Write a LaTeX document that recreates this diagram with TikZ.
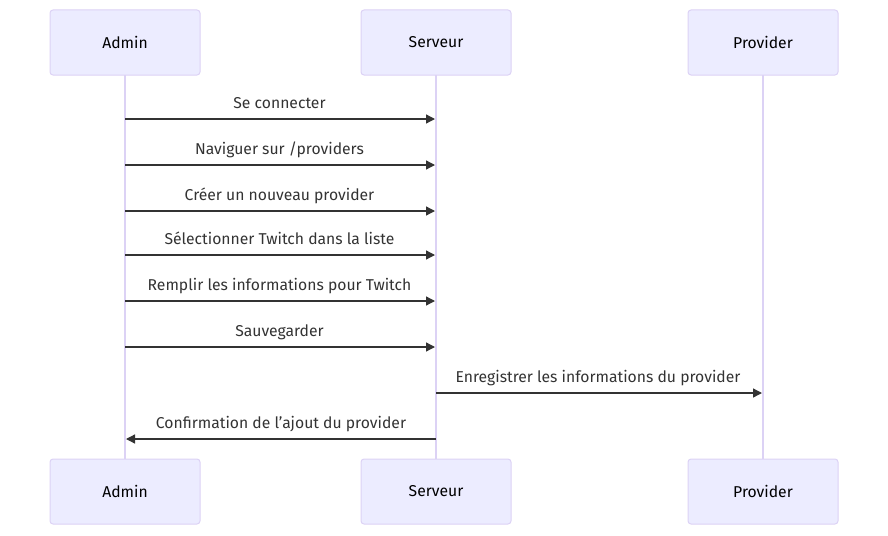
\documentclass[tikz,border=0pt]{standalone}
\usepackage{fontspec}
\setmainfont{Fira Sans}
\usetikzlibrary{arrows.meta}
\definecolor{actfill}{HTML}{ECECFF}
\definecolor{actline}{HTML}{DCD2F5}
\definecolor{msg}{HTML}{333333}
\tikzset{
  actor/.style={draw=actline, line width=1pt, fill=actfill, rounded corners=3pt, minimum width=150pt, minimum height=65pt, inner sep=0pt, font=\fontsize{15.7}{18}\selectfont, text=black},
  lifeline/.style={draw=actline, line width=1.3pt},
  message/.style={draw=msg, line width=1.3pt, -{Triangle[length=9pt,width=9pt]}},
  mlabel/.style={font=\fontsize{15.7}{18}\selectfont, text=msg, inner sep=0pt, anchor=base}
}
\begin{document}
\begin{tikzpicture}[x=1pt,y=-1pt]
\useasboundingbox (0,0) rectangle (888,535);
% lifelines
\foreach \x/\n in {125/a,436/s,763/p}{
  \coordinate (\n top) at (\x,75);
  \coordinate (\n bot) at (\x,459);
  \draw[lifeline] (\n top) -- (\n bot);
}
\node[actor] (A1) at (125,42.5) {\raisebox{-1pt}{Admin}};
\node[actor] (S1) at (436,42.5) {\raisebox{-1pt}{Serveur}};
\node[actor] (P1) at (763,42.5) {\raisebox{-1pt}{Provider}};
\node[actor] (A2) at (125,491.5) {\raisebox{-1pt}{Admin}};
\node[actor] (S2) at (436,491.5) {\raisebox{-1pt}{Serveur}};
\node[actor] (P2) at (763,491.5) {\raisebox{-1pt}{Provider}};
% messages
\foreach \y/\t [count=\i] in {119/{Se connecter},165/{Naviguer sur /providers},211/{Créer un nouveau provider},255/{Sélectionner Twitch dans la liste},301/{Remplir les informations pour Twitch},347/{Sauvegarder}}{
  \coordinate (m\i a) at (125,\y);
  \coordinate (m\i s) at (435,\y);
  \draw[message] (m\i a) -- (m\i s);
  \node[mlabel] (l\i) at (279.5,\y-11) {\t};
}
\coordinate (m7s) at (436,393);
\coordinate (m7p) at (762,393);
\draw[message] (m7s) -- (m7p);
\node[mlabel] (l7) at (598,382) {Enregistrer les informations du provider};
\coordinate (m8s) at (436,439);
\coordinate (m8a) at (126,439);
\draw[message] (m8s) -- (m8a);
\node[mlabel] (l8) at (281,428) {Confirmation de l\symbol{39}ajout du provider};
\end{tikzpicture}
\end{document}
